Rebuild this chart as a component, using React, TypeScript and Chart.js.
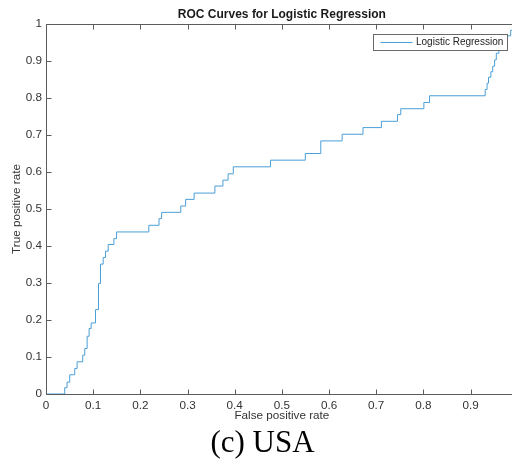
import React, { useEffect, useRef } from "react";
import { Chart, registerables } from "chart.js";

Chart.register(...registerables);

// ROC curve points (false positive rate, true positive rate)
const fpr = [0, 0.0397, 0.0446, 0.0503, 0.0609, 0.0659, 0.0779, 0.0822, 0.0872, 0.0914, 0.0957, 0.1049, 0.1113, 0.1155, 0.1212, 0.1262, 0.1318, 0.1439, 0.1496, 0.218, 0.2396, 0.245, 0.2857, 0.296, 0.314, 0.358, 0.375, 0.386, 0.397, 0.476, 0.5496, 0.5825, 0.6277, 0.672, 0.711, 0.745, 0.752, 0.801, 0.813, 0.931, 0.935, 0.938, 0.943, 0.947, 0.951, 0.9545, 0.96, 0.965, 0.97, 0.985, 0.991, 1];
const tpr = [0, 0.017, 0.032, 0.052, 0.069, 0.087, 0.105, 0.123, 0.156, 0.177, 0.192, 0.228, 0.299, 0.351, 0.369, 0.386, 0.404, 0.42, 0.438, 0.456, 0.474, 0.491, 0.508, 0.526, 0.543, 0.562, 0.578, 0.595, 0.614, 0.632, 0.65, 0.684, 0.702, 0.72, 0.737, 0.755, 0.771, 0.788, 0.806, 0.823, 0.84, 0.856, 0.871, 0.886, 0.903, 0.921, 0.934, 0.952, 0.968, 0.983, 1.0, 1.0];

const xTicks = [0, 0.1, 0.2, 0.3, 0.4, 0.5, 0.6, 0.7, 0.8, 0.9, 1];
const yTicks = [0, 0.1, 0.2, 0.3, 0.4, 0.5, 0.6, 0.7, 0.8, 0.9, 1];

const seriesName = "Logistic Regression";
const chartTitle = "ROC Curves for Logistic Regression";
const xTitle = "False positive rate";
const yTitle = "True positive rate";
const caption = "(c) USA";

const FAMILY = '"Liberation Sans", Arial, Helvetica, sans-serif';
const LINE_COLOR = "#4a9fd8";
const AXIS_COLOR = "#5c5c5c";
const TEXT_COLOR = "#333333";

const framePlugin = {
  id: "matlabFrame",
  afterDatasetsDraw(chart: any) {
    const { ctx, chartArea: a, scales } = chart;
    const L = Math.round(a.left) + 0.5;
    const R = Math.round(a.right) + 0.5;
    const T = Math.round(a.top) + 0.5;
    const B = Math.round(a.bottom) + 0.5;
    ctx.save();
    ctx.strokeStyle = AXIS_COLOR;
    ctx.lineWidth = 1;
    ctx.beginPath();
    ctx.moveTo(L, T);
    ctx.lineTo(R, T);
    ctx.lineTo(R, B);
    ctx.lineTo(L, B);
    ctx.closePath();
    const tl = 5;
    xTicks.forEach((v) => {
      const x = Math.round(scales.x.getPixelForValue(v)) + 0.5;
      ctx.moveTo(x, B);
      ctx.lineTo(x, B - tl);
      ctx.moveTo(x, T);
      ctx.lineTo(x, T + tl);
    });
    yTicks.forEach((v) => {
      const y = Math.round(scales.y.getPixelForValue(v)) + 0.5;
      ctx.moveTo(L, y);
      ctx.lineTo(L + tl, y);
      ctx.moveTo(R, y);
      ctx.lineTo(R - tl, y);
    });
    ctx.stroke();

    // title
    ctx.fillStyle = "#1a1a1a";
    ctx.font = `bold 12px ${FAMILY}`;
    ctx.textAlign = "center";
    ctx.textBaseline = "middle";
    ctx.fillText(chartTitle, (a.left + a.right) / 2, 15);

    // legend (inside, north-east)
    ctx.font = `10px ${FAMILY}`;
    const tw = ctx.measureText(seriesName).width;
    const bw = 7 + 32 + 3.5 + tw + 5;
    const bR = Math.round(a.right - 11) + 0.5;
    const bL = Math.round(bR - bw) + 0.5;
    const bT = Math.round(a.top + 10) + 0.5;
    const bB = bT + 16;
    ctx.fillStyle = "#ffffff";
    ctx.fillRect(bL, bT, bR - bL, bB - bT);
    ctx.strokeStyle = "#6a6a6a";
    ctx.strokeRect(bL, bT, bR - bL, bB - bT);
    const my = (bT + bB) / 2;
    ctx.strokeStyle = LINE_COLOR;
    ctx.beginPath();
    ctx.moveTo(bL + 7, my);
    ctx.lineTo(bL + 39, my);
    ctx.stroke();
    ctx.fillStyle = "#222222";
    ctx.textAlign = "left";
    ctx.textBaseline = "middle";
    ctx.fillText(seriesName, bL + 42.5, my);
    ctx.restore();
  },
};

export default function App() {
  const ref = useRef<HTMLCanvasElement | null>(null);

  useEffect(() => {
    if (!ref.current) return;
    const font = { family: FAMILY, size: 11.7 };
    const chart = new Chart(ref.current, {
      type: "line",
      data: {
        datasets: [
          {
            label: seriesName,
            data: fpr.map((x, i) => ({ x, y: tpr[i] })),
            borderColor: LINE_COLOR,
            borderWidth: 1,
            pointRadius: 0,
            stepped: true,
            fill: false,
          },
        ],
      },
      options: {
        responsive: false,
        animation: false,
        devicePixelRatio: 1,
        layout: { padding: { top: 24, right: 4, left: 0, bottom: 0 } },
        plugins: {
          legend: { display: false },
          tooltip: { enabled: false },
          title: { display: false },
        },
        scales: {
          x: {
            type: "linear",
            min: 0,
            max: 1,
            grid: { display: false, drawTicks: false },
            border: { display: false },
            afterBuildTicks: (s: any) => {
              s.ticks = xTicks.map((v) => ({ value: v }));
            },
            afterFit: (s: any) => {
              s.height = 36;
            },
            ticks: {
              padding: 5,
              font,
              color: TEXT_COLOR,
              maxRotation: 0,
              autoSkip: false,
              callback: (v: any) => String(v),
            },
            title: {
              display: true,
              text: xTitle,
              font,
              color: TEXT_COLOR,
              padding: { top: 0, bottom: 7 },
            },
          },
          y: {
            type: "linear",
            min: 0,
            max: 1,
            grid: { display: false, drawTicks: false },
            border: { display: false },
            afterBuildTicks: (s: any) => {
              s.ticks = yTicks.map((v) => ({ value: v }));
            },
            afterFit: (s: any) => {
              s.width = 46;
            },
            ticks: {
              padding: 4,
              font,
              color: TEXT_COLOR,
              autoSkip: false,
              callback: (v: any) => String(v),
            },
            title: {
              display: true,
              text: yTitle,
              font,
              color: TEXT_COLOR,
              padding: { top: 10, bottom: 0 },
            },
          },
        },
      },
      plugins: [framePlugin],
    });
    return () => chart.destroy();
  }, []);

  return (
    <div
      style={{
        position: "absolute",
        left: 0,
        top: 0,
        width: 512,
        height: 465,
        overflow: "hidden",
        background: "#ffffff",
      }}
    >
      <canvas ref={ref} width={526} height={430} style={{ position: "absolute", left: 0, top: 0 }} />
      <div
        style={{
          position: "absolute",
          left: 0,
          top: 426,
          width: 525,
          textAlign: "center",
          fontFamily: '"Liberation Serif", "Times New Roman", serif',
          fontSize: 31,
          lineHeight: "31px",
          color: "#000000",
        }}
      >
        {caption}
      </div>
    </div>
  );
}
